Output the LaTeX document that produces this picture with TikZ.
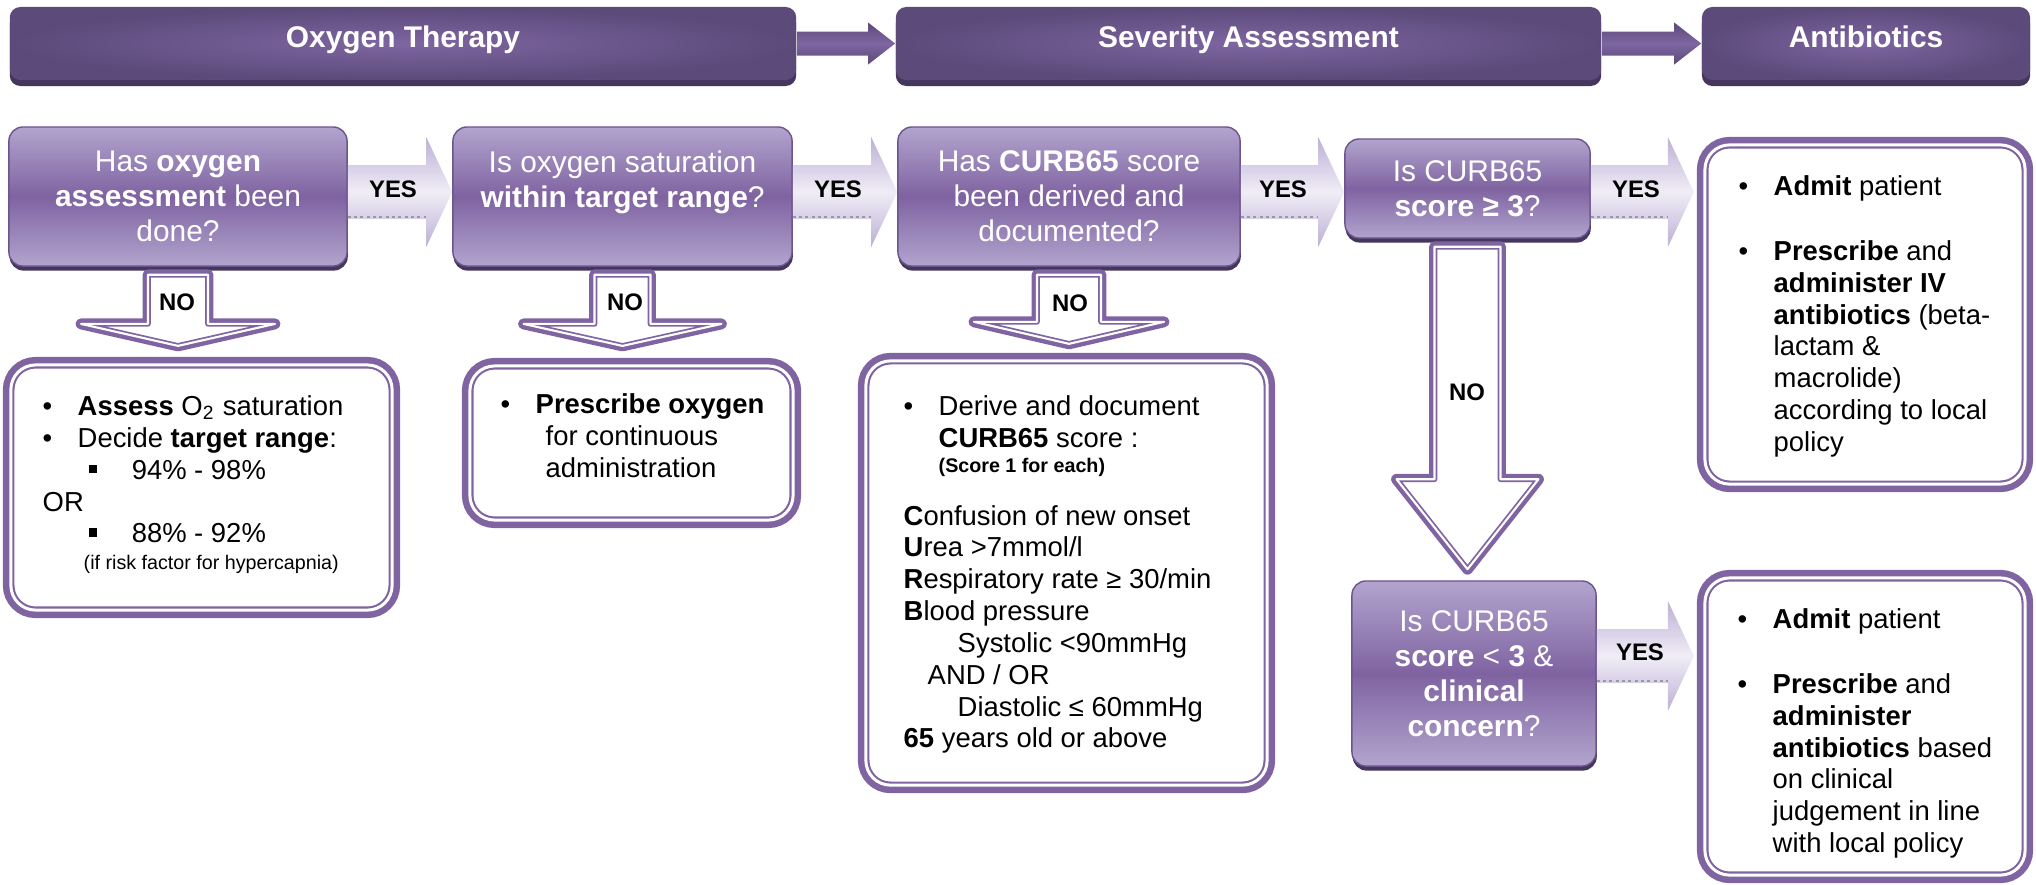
\documentclass[tikz,border=0pt]{standalone}
\usepackage{fontspec}
\setmainfont{Liberation Sans}
\usetikzlibrary{calc,shadows}

\definecolor{ox}{RGB}{128,100,162}
\definecolor{hdark}{RGB}{92,74,122}
\definecolor{hlight}{RGB}{126,102,161}
\definecolor{hshadow}{RGB}{68,54,92}
\definecolor{qlight}{RGB}{178,164,206}
\definecolor{qmid}{RGB}{127,99,161}
\definecolor{qedge}{RGB}{108,84,140}
\definecolor{ylight}{RGB}{240,237,246}
\definecolor{yedge}{RGB}{188,175,214}

\newcommand{\bul}{\makebox[0.35cm][l]{\textbullet}}
\newcommand{\sqbul}{\makebox[0.43cm][l]{\rule[0.06cm]{0.085cm}{0.085cm}}}

% block arrow to the right: from #1 to #2 on row #3, tip #4 short of #2
\newcommand{\yesarrow}[4]{%
  \path[yesfill] ($(#1.east |- #3)+(0,-27)$) -- ($(#2.west |- #3)+(-#4-26,-27)$)
    -- ($(#2.west |- #3)+(-#4-26,-55)$) -- ($(#2.west |- #3)+(-#4,0)$)
    -- ($(#2.west |- #3)+(-#4-26,55)$) -- ($(#2.west |- #3)+(-#4-26,27)$)
    -- ($(#1.east |- #3)+(0,27)$) -- cycle;
  \draw[yesline] ($(#1.east |- #3)+(0,25)$) -- ($(#2.west |- #3)+(-#4-26,25)$);}

% block arrow downwards: from #1 to #2, shaft #3, head #4, head length #5, tip #6 short of #2
\newcommand{\noarrow}[6]{%
  \draw[nofill] ($(#1.south)+(-#3,8)$) -- ($(#1.south |- #2.north)+(-#3,-#6-#5)$)
    -- ($(#1.south |- #2.north)+(-#4,-#6-#5)$) -- ($(#1.south |- #2.north)+(0,-#6)$)
    -- ($(#1.south |- #2.north)+(#4,-#6-#5)$) -- ($(#1.south |- #2.north)+(#3,-#6-#5)$)
    -- ($(#1.south)+(#3,8)$) -- cycle;}

\begin{document}
\begin{tikzpicture}[x=0.01cm, y=-0.01cm,
  hbar/.style={rounded corners=3pt, inner color=hlight, outer color=hdark,
    minimum height=0.73cm, text height=0.215cm, text depth=0.13cm, text=white,
    font=\fontsize{8.5}{10}\selectfont\bfseries,
    drop shadow={shadow xshift=0pt, shadow yshift=-1.7pt, fill=hshadow, opacity=1}},
  harrow/.style={top color=hdark, bottom color=hdark, middle color=hlight},
  qbox/.style={rounded corners=4pt, top color=qlight, bottom color=qlight, middle color=qmid,
    draw=qedge, line width=0.4pt, inner sep=0pt, align=center, text=white,
    font=\fontsize{8.5}{10}\selectfont,
    drop shadow={shadow xshift=0.2pt, shadow yshift=-1.3pt, fill=hshadow, opacity=1}},
  resbox/.style={rounded corners=7pt, fill=white, draw=ox, line width=0.6pt,
    double=white, double distance=0.85pt, preaction={draw=ox, line width=4.55pt}},
  restext/.style={anchor=north west, inner sep=0pt, align=left,
    font=\fontsize{7.8}{9.05}\selectfont},
  yesfill/.style={top color=yedge, bottom color=yedge, middle color=ylight},
  yesline/.style={draw=black!40, line width=0.8pt, densely dotted},
  nofill/.style={line join=round, draw=ox, line width=0.5pt, double=white, double distance=0.6pt,
    fill=white, preaction={draw=ox, line join=round, line width=3.1pt}},
  lbl/.style={inner sep=0pt, font=\fontsize{6.8}{8}\selectfont\bfseries}]
  \useasboundingbox (0,0) rectangle (2036,884);

  % stage headers
  \node[hbar, minimum width=7.86cm] (h1) at (403,43.5) {Oxygen Therapy};
  \node[hbar, minimum width=7.05cm] (h2) at (1248.5,43.5) {Severity Assessment};
  \node[hbar, minimum width=3.28cm] (h3) at (1866,43.5) {Antibiotics};
  \path[harrow] ($(h1.east)+(0,-12)$) -- ($(h2.west)+(-27,-12)$) -- ($(h2.west)+(-27,-21)$) -- (h2.west)
    -- ($(h2.west)+(-27,21)$) -- ($(h2.west)+(-27,12)$) -- ($(h1.east)+(0,12)$) -- cycle;
  \path[harrow] ($(h2.east)+(0,-12)$) -- ($(h3.west)+(-27,-12)$) -- ($(h3.west)+(-27,-21)$) -- (h3.west)
    -- ($(h3.west)+(-27,21)$) -- ($(h3.west)+(-27,12)$) -- ($(h2.east)+(0,12)$) -- cycle;

  % questions
  \node[qbox, minimum width=3.38cm, minimum height=1.39cm] (q1) at (178,196.5)
    {Has \textbf{oxygen}\\\textbf{assessment} been\\done?};
  \node[qbox, minimum width=3.39cm, minimum height=1.39cm] (q2) at (622.5,196.5)
    {Is oxygen saturation\\\textbf{within target range}?\\\mbox{}};
  \node[qbox, minimum width=3.42cm, minimum height=1.39cm] (q3) at (1069,196.5)
    {Has \textbf{CURB65} score\\been derived and\\documented?};
  \node[qbox, minimum width=2.45cm, minimum height=0.99cm] (q4) at (1467.5,188.5)
    {Is CURB65\\\textbf{score ≥ 3}?};
  \node[qbox, minimum width=2.44cm, minimum height=1.85cm] (q5) at (1474,673.5)
    {Is CURB65\\\textbf{score} < \textbf{3} \&\\\textbf{clinical}\\\textbf{concern}?};

  % actions
  \node[resbox, minimum width=3.81cm, minimum height=2.45cm] (r1) at (201.5,487.5) {};
  \node[resbox, minimum width=3.23cm, minimum height=1.54cm] (r2) at (631.5,443) {};
  \node[resbox, minimum width=4.01cm, minimum height=4.24cm] (r3) at (1066.5,573) {};
  \node[resbox, minimum width=3.20cm, minimum height=3.39cm] (rt) at (1865,314.5) {};
  \node[resbox, minimum width=3.20cm, minimum height=2.97cm] (rb) at (1865,726.5) {};

  \node[restext] (t1) at (42,395) {\bul\textbf{Assess} O\textsubscript{2} saturation\\
    \bul Decide \textbf{target range}:\\
    \hspace*{0.46cm}\sqbul 94\% - 98\%\\
    OR\\
    \hspace*{0.46cm}\sqbul 88\% - 92\%\\[-0.05cm]
    \hspace*{0.41cm}{\fontsize{5.6}{7}\selectfont (if risk factor for hypercapnia)}};
  \node[restext] (t2) at (500,393) {\bul\textbf{Prescribe oxygen}\\
    \hspace*{0.45cm}for continuous\\
    \hspace*{0.45cm}administration};
  \node[restext] (t3) at (903,395) {\bul Derive and document\\
    \hspace*{0.35cm}\textbf{CURB65} score :\\[-0.07cm]
    \hspace*{0.35cm}{\fontsize{5.6}{7}\selectfont\bfseries (Score 1 for each)}\\[0.21cm]
    \textbf{C}onfusion of new onset\\
    \textbf{U}rea >7mmol/l\\
    \textbf{R}espiratory rate ≥ 30/min\\
    \textbf{B}lood pressure\\
    \hspace*{0.54cm}Systolic <90mmHg\\
    \hspace*{0.24cm}AND / OR\\
    \hspace*{0.54cm}Diastolic ≤ 60mmHg\\
    \textbf{65} years old or above};
  \node[restext] (t4) at (1738,175) {\bul\textbf{Admit} patient\\[0.33cm]
    \bul\textbf{Prescribe} and\\
    \hspace*{0.35cm}\textbf{administer IV}\\
    \hspace*{0.35cm}\textbf{antibiotics} (beta-\\
    \hspace*{0.35cm}lactam \&\\
    \hspace*{0.35cm}macrolide)\\
    \hspace*{0.35cm}according to local\\
    \hspace*{0.35cm}policy};
  \node[restext] (t5) at (1737,608) {\bul\textbf{Admit} patient\\[0.33cm]
    \bul\textbf{Prescribe} and\\
    \hspace*{0.35cm}\textbf{administer}\\
    \hspace*{0.35cm}\textbf{antibiotics} based\\
    \hspace*{0.35cm}on clinical\\
    \hspace*{0.35cm}judgement in line\\
    \hspace*{0.35cm}with local policy};

  % connectors
  \coordinate (row1) at (0,192);
  \coordinate (row2) at (0,656);
  \yesarrow{q1}{q2}{row1}{0}
  \yesarrow{q2}{q3}{row1}{0}
  \yesarrow{q3}{q4}{row1}{0}
  \yesarrow{q4}{rt}{row1}{10}
  \yesarrow{q5}{rb}{row2}{10}
  \noarrow{q1}{r1}{30}{97}{22}{18}
  \noarrow{q2}{r2}{28}{99}{22}{19}
  \noarrow{q3}{r3}{32}{95}{22}{16}
  \noarrow{q4}{q5}{33}{71}{90}{11}

  \node[lbl] (y1) at (393,189) {YES};
  \node[lbl] (y2) at (838,189) {YES};
  \node[lbl] (y3) at (1283,189) {YES};
  \node[lbl] (y4) at (1636,189) {YES};
  \node[lbl] (y5) at (1640,652) {YES};
  \node[lbl] (n1) at (177,302) {NO};
  \node[lbl] (n2) at (625,302) {NO};
  \node[lbl] (n3) at (1070,303) {NO};
  \node[lbl] (n4) at (1467,392) {NO};
\end{tikzpicture}
\end{document}
